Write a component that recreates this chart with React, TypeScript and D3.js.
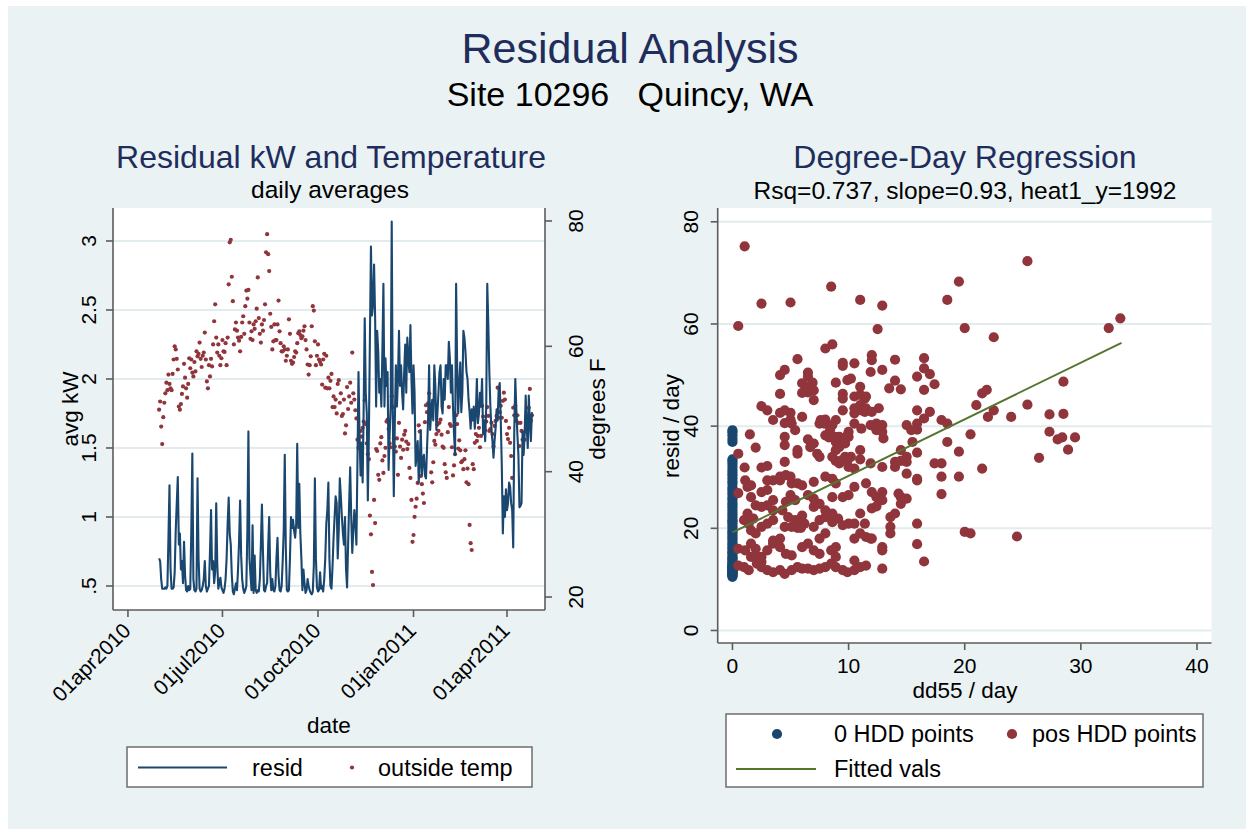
import React from "react";
import * as d3 from "d3";

// ---- data ----
// left panel: daily averages, first day = 01may2010 (30 days after 01apr2010)
const startDay = 30;
const resid = [
  0.70,0.68,0.55,0.48,0.48,0.48,0.49,0.48,0.50,0.85,
  1.23,0.62,0.48,0.48,0.49,0.60,0.90,1.10,1.29,0.80,
  0.88,0.62,0.68,0.52,0.82,0.58,0.47,0.46,0.50,0.47,
  0.48,0.90,1.46,0.55,0.47,0.46,0.48,1.28,0.70,0.48,
  0.46,0.47,0.50,0.55,0.68,0.50,0.46,0.48,0.50,0.75,
  1.05,0.62,0.68,0.52,0.60,1.10,0.66,0.48,0.52,0.56,
  0.49,0.47,0.45,0.48,0.55,0.70,0.95,1.14,0.88,0.80,
  0.58,0.46,0.44,0.48,0.52,0.47,0.62,0.82,1.12,0.72,
  0.55,0.48,0.45,0.47,0.50,0.90,1.62,0.70,0.58,0.47,
  0.94,0.45,0.72,0.47,0.45,0.47,0.46,0.55,0.80,1.09,
  0.75,0.47,0.46,0.50,0.52,0.78,1.00,0.60,0.47,0.55,
  0.47,0.46,0.50,0.70,0.85,0.58,0.47,0.46,0.50,0.68,
  0.90,1.45,0.78,0.47,0.46,0.47,0.70,1.00,0.92,0.98,
  0.90,0.85,0.95,1.53,0.92,1.24,0.88,0.70,0.47,0.62,
  0.52,0.45,0.47,0.55,0.50,0.47,0.45,0.44,0.46,0.65,
  1.28,0.70,0.49,0.46,0.47,0.60,0.48,0.50,0.46,0.55,
  0.70,0.95,1.05,1.25,0.70,0.50,0.48,0.64,0.85,1.00,
  1.15,1.10,0.70,0.90,1.28,1.15,1.00,0.88,0.80,1.00,
  0.62,0.49,0.80,1.10,1.36,1.00,0.74,0.90,1.05,0.95,
  0.80,1.40,2.05,1.60,1.30,1.54,1.25,1.80,2.44,1.90,
  1.75,1.12,1.60,2.30,2.96,2.46,2.54,2.83,2.45,1.80,
  2.35,2.20,1.90,2.00,1.80,2.20,2.69,1.80,2.15,1.95,
  2.05,1.34,1.60,1.80,3.14,1.75,1.15,1.70,2.10,1.80,
  2.00,2.35,1.95,2.10,1.90,1.78,2.05,2.25,1.90,2.30,
  2.15,2.05,2.39,2.00,1.75,2.10,1.90,1.37,1.45,1.55,
  1.25,1.40,1.63,1.30,1.42,1.45,1.30,1.28,1.50,1.70,
  2.10,1.63,1.75,1.85,1.70,2.10,1.95,1.63,1.75,1.90,
  2.05,2.10,1.80,1.75,2.00,1.85,2.10,2.10,2.00,2.27,
  2.15,1.90,2.10,1.80,1.60,1.45,2.69,2.10,1.75,1.95,
  2.12,1.76,1.90,2.35,2.30,2.20,2.05,2.00,1.85,1.76,
  1.64,1.78,1.70,1.80,1.64,1.75,2.00,1.68,1.75,1.90,
  1.80,2.00,1.60,1.70,1.55,1.80,2.69,2.40,2.05,1.80,
  1.64,1.55,1.43,1.55,1.64,1.78,1.70,1.93,1.97,1.70,
  1.37,0.88,1.15,1.00,1.20,1.05,1.10,1.25,1.22,1.10,
  1.05,0.78,1.62,2.00,1.78,1.60,1.45,1.07,1.08,1.10,
  1.62,1.45,1.60,1.88,1.65,1.50,1.88,1.68,1.55,1.76,
];
const temp = [
  49.9,51.2,47.2,44.4,48.7,51.0,52.5,54.2,53.0,55.5,
  54.0,53.3,53.0,55.6,57.9,60.0,59.5,58.0,56.3,50.4,
  49.9,50.8,52.4,53.6,57.2,55.0,53.3,51.8,54.0,58.1,
  56.5,57.9,55.8,55.2,57.5,56.0,59.2,58.4,58.8,60.6,
  58.0,56.7,58.5,59.0,62.2,57.9,54.4,53.3,57.0,55.2,
  58.0,56.8,60.3,64.0,66.7,61.4,59.0,60.3,58.5,57.0,
  58.1,61.0,59.2,59.1,60.5,57.0,61.4,69.9,76.6,77.0,
  71.1,67.2,60.3,62.7,63.8,62.5,61.4,60.9,59.2,61.5,
  63.8,64.8,62.0,66.4,68.9,67.6,69.0,63.8,61.2,62.4,
  61.0,63.5,62.8,64.0,66.0,71.0,64.5,62.0,60.6,63.5,
  62.5,64.2,66.7,75.0,77.9,74.7,72.0,65.2,63.1,59.5,
  60.8,63.5,61.0,61.0,63.5,67.3,62.4,60.5,59.2,59.2,
  60.0,59.5,57.7,58.5,59.5,64.3,62.0,57.7,57.2,57.4,
  58.3,59.2,59.0,60.5,62.1,62.4,61.8,61.3,61.6,62.5,
  63.2,61.0,59.5,57.1,55.5,57.0,58.4,63.2,66.4,65.7,
  60.8,57.0,58.5,60.3,57.9,57.5,57.1,53.9,57.9,58.8,
  53.4,58.5,53.3,55.0,53.3,54.5,55.6,50.3,52.0,50.3,
  51.5,49.3,54.0,54.6,51.0,52.5,48.9,49.2,51.5,46.1,
  47.4,53.5,50.0,52.0,54.2,51.0,59.0,52.5,51.5,49.8,
  48.5,45.1,43.8,45.6,46.5,45.6,47.0,48.0,51.4,47.6,
  44.5,42.8,42.0,33.0,30.0,24.0,21.9,35.5,31.8,43.6,
  43.3,39.5,38.7,44.5,45.5,41.8,39.8,42.5,43.8,48.0,
  48.3,46.8,44.5,43.9,52.0,50.3,45.3,44.0,43.2,45.3,
  39.5,47.8,44.0,42.2,45.1,43.5,45.9,46.5,44.8,43.6,
  44.4,40.6,39.0,35.5,28.8,29.9,32.8,34.4,35.7,38.2,
  47.4,46.4,39.3,38.0,36.5,35.0,47.9,50.6,49.5,50.9,
  52.5,50.6,39.9,38.3,41.5,44.9,44.3,46.0,47.5,46.5,
  47.8,48.3,45.9,44.0,43.8,41.2,39.9,39.0,46.3,50.3,
  47.6,47.3,43.9,39.4,41.0,42.8,49.0,47.6,43.7,45.0,
  43.4,41.5,41.7,40.4,42.0,43.4,38.3,40.5,38.0,31.5,
  28.6,27.5,41.2,40.4,44.6,46.0,44.9,45.7,47.0,43.9,
  45.7,50.5,48.8,47.7,46.6,48.0,50.3,48.9,46.5,46.8,
  47.8,46.0,44.0,47.3,48.1,48.9,53.4,48.6,49.5,50.5,
  48.6,51.3,52.6,51.5,48.1,46.0,45.2,47.0,44.6,42.5,
  39.0,50.2,49.0,50.5,48.1,49.0,47.8,44.1,47.8,46.5,
  45.1,46.2,45.1,46.5,47.5,48.5,50.2,53.2,48.1,49.0,
];
const xTickDays = [0, 91, 183, 275, 365];
const xTickLabels = ["01apr2010", "01jul2010", "01oct2010", "01jan2011", "01apr2011"];
const kwTicks = [0.5, 1, 1.5, 2, 2.5, 3];
const kwTickLabels = [".5", "1", "1.5", "2", "2.5", "3"];
const tempTicks = [20, 40, 60, 80];

// right panel: degree-day regression
const zeroHddResid = [
  10.5,10.7,10.9,11.0,11.2,11.3,11.5,11.6,11.7,11.9,12.0,12.1,12.3,12.4,12.6,12.8,
  13.0,13.3,13.5,13.9,14.2,14.4,14.9,15.3,15.6,16.1,16.4,16.9,17.3,17.8,18.2,18.6,
  19.1,19.4,19.9,20.4,20.9,21.3,21.6,22.1,22.6,23.0,23.5,24.1,24.6,25.0,25.6,26.0,
  26.6,27.1,27.6,28.0,28.7,29.2,29.8,30.4,30.9,31.4,32.0,32.6,33.1,33.5,
  36.9,37.5,38.2,38.8,39.2,
];
const posHddPoints: [number, number][] = [
  [1.05,75.2],[0.5,59.6],[2.5,64.0],[5.0,64.2],[8.5,67.3],[11.0,64.7],[12.9,63.6],[12.5,59.0],
  [18.5,64.7],[19.5,68.3],[20.0,59.2],[22.5,57.4],[25.4,72.3],[32.4,59.2],[33.4,61.1],
  [8.0,55.2],[8.6,56.0],[5.6,53.1],[4.1,50.0],[4.5,51.0],[4.1,46.3],[6.5,50.5],[6.5,49.7],
  [6.9,48.5],[7.0,47.0],[7.0,45.1],[6.0,46.5],[8.9,48.5],[9.5,52.4],[9.5,51.8],[10.5,52.3],
  [9.9,49.0],[10.2,49.3],[11.0,47.7],[10.5,45.8],[11.4,45.4],[11.4,42.8],[12.0,53.9],[12.0,52.9],
  [11.9,50.6],[12.9,51.0],[14.0,53.0],[14.0,48.9],[14.5,47.2],[13.5,47.4],[12.6,43.5],[11.1,43.1],
  [10.5,42.5],[9.5,46.3],[9.5,45.4],[9.5,43.1],[8.9,41.2],[8.6,40.2],[8.0,41.3],[7.5,40.5],
  [6.0,41.8],[5.0,42.6],[4.1,42.6],[3.0,43.1],[2.5,43.9],[6.0,48.4],[5.1,40.5],[4.5,40.6],
  [4.5,36.3],[5.6,35.3],[5.6,34.6],[6.5,37.4],[6.7,35.9],[7.0,36.6],[7.3,34.6],[7.5,34.0],
  [8.0,38.2],[8.3,37.8],[8.9,36.9],[9.5,36.6],[9.9,38.2],[10.0,37.9],[8.9,35.3],[8.6,34.0],
  [8.9,33.2],[9.2,32.7],[9.7,34.0],[10.2,34.0],[10.5,31.7],[11.0,35.3],[11.1,39.5],[11.9,40.2],
  [12.4,39.2],[12.9,40.2],[13.0,37.6],[12.9,32.0],[11.9,32.7],[14.0,33.0],[14.5,33.2],[15.0,34.0],
  [15.0,40.2],[15.9,39.3],[15.9,34.8],[15.5,36.9],[16.5,47.1],[16.5,51.3],[16.5,53.3],[17.0,50.2],
  [17.4,48.2],[15.9,49.7],[15.9,43.1],[16.5,41.5],[17.0,42.8],[18.0,41.2],[18.5,40.5],[18.5,36.9],
  [17.4,32.7],[18.0,32.7],[18.0,30.1],[18.0,26.7],[15.9,29.4],[15.9,20.9],[15.9,16.9],[16.5,13.5],
  [19.5,35.0],[19.5,30.1],[20.0,19.3],[20.5,19.0],[20.5,38.4],[21.0,44.1],[21.5,46.4],[21.9,47.1],
  [22.0,41.8],[22.5,43.1],[21.5,31.7],[24.0,41.8],[24.5,18.4],[25.4,44.2],[26.4,33.8],[27.3,42.3],
  [27.3,38.9],[28.0,37.4],[28.4,37.8],[28.5,48.7],[28.5,42.4],[28.9,35.4],[29.5,37.8],
  [0.5,34.6],[1.05,31.9],[1.5,38.4],[1.1,29.4],[0.5,26.9],[1.3,28.1],[1.6,28.4],[2.0,35.8],
  [2.5,31.9],[3.0,32.2],[3.5,29.4],[4.1,29.4],[3.0,27.5],[2.5,27.1],[1.6,26.1],[2.0,24.5],
  [1.3,22.9],[1.0,21.6],[1.8,21.9],[1.6,19.6],[2.0,19.0],[2.5,20.3],[3.0,20.9],[3.5,21.6],
  [3.5,23.5],[4.1,30.1],[4.6,30.4],[5.0,30.1],[4.5,33.0],[5.1,28.8],[5.6,28.8],[6.0,28.4],
  [5.0,26.5],[5.4,25.5],[4.6,25.2],[4.3,23.5],[4.8,22.2],[5.4,21.6],[6.0,22.5],[6.2,20.9],
  [5.6,20.1],[5.1,20.3],[4.5,20.3],[3.5,17.6],[3.5,17.0],[4.1,18.0],[4.1,16.3],[4.6,15.0],
  [3.0,15.7],[2.5,14.4],[2.0,16.0],[1.6,14.4],[1.1,15.7],[0.5,16.0],[0.5,12.7],[1.0,12.4],
  [1.4,11.8],[2.1,13.1],[2.5,12.4],[3.0,11.8],[3.5,11.4],[4.1,11.8],[4.5,11.1],[5.1,11.8],
  [5.6,12.4],[6.0,12.1],[6.5,12.1],[7.0,11.8],[7.5,12.1],[8.0,12.4],[8.5,13.1],[8.9,12.4],
  [9.5,11.8],[9.9,11.4],[10.5,11.8],[11.0,12.4],[11.5,12.7],[12.9,12.1],[10.5,13.7],[8.9,14.4],
  [8.5,15.7],[8.9,16.3],[7.0,15.7],[7.5,15.0],[6.5,17.0],[6.0,16.3],[5.1,14.7],[7.5,18.0],
  [8.0,19.0],[7.0,20.3],[7.5,21.6],[8.0,22.2],[8.0,23.5],[8.6,22.9],[8.6,21.2],[9.1,21.9],
  [9.5,20.6],[10.0,20.9],[10.5,20.9],[10.5,18.0],[11.0,19.0],[11.5,18.3],[12.0,18.0],[11.4,20.9],
  [11.0,22.9],[12.0,23.9],[12.4,26.1],[12.9,27.1],[12.0,27.1],[11.5,28.8],[10.5,28.1],[10.0,26.5],
  [9.5,26.1],[8.9,28.8],[8.0,30.1],[8.6,29.7],[7.0,29.1],[7.0,25.8],[7.0,24.2],[7.5,24.8],
  [6.5,26.5],[13.6,22.2],[14.0,22.9],[13.6,20.3],[13.6,19.0],[12.9,16.3],[12.9,15.7],[11.9,18.0],
  [14.5,24.8],[14.5,26.1],[15.0,25.8],[15.0,30.7],[15.9,29.7],[12.9,25.5],[12.4,24.3],[8.6,26.1],
  [5.9,20.9],[5.9,20.1],[3.0,24.5],[3.5,25.5],[3.0,29.4],[2.5,24.2],[1.4,20.9],[1.6,17.0],
  [2.1,14.4],[2.5,13.4],
  [3.5,41.2],[4.5,43.1],[4.5,37.9],[5.0,41.3],[5.4,39.2],[6.5,47.7],[6.5,46.6],[7.6,41.2],
  [7.9,40.5],[8.4,39.2],[8.8,37.9],[9.2,35.9],[9.7,36.6],[9.4,33.3],[9.9,33.3],[10.0,32.0],
  [11.0,33.5],[9.2,37.9],[9.7,37.6],[10.0,38.9],[10.5,40.5],[10.5,43.5],[11.0,44.1],[11.0,46.1],
  [11.5,45.8],[11.5,43.5],[12.0,42.8],[12.4,40.5],[12.9,38.9],[14.0,32.0],[14.5,35.3],[15.4,39.2],
  [15.9,40.5],[15.0,33.0],[14.3,26.8],
];
const fitX = [0, 33.5];
const fitY = [19.2, 56.3];
const ddTicks = [0, 10, 20, 30, 40];
const rdTicks = [0, 20, 40, 60, 80];

// ---- style ----
const FONT = "'Liberation Sans', Arial, Helvetica, sans-serif";
const NAVY = "#1a476f";
const MAROON = "#90353b";
const GREEN = "#55752f";
const BG = "#eaf2f3";
const GRID = "#e2ebed";
const AXIS = "#5c5c5c";
const TITLE = "#1f2d5c";

export default function App() {
  const L = { x0: 113, x1: 545, y0: 208, y1: 610 };
  const xL = d3.scaleLinear().domain([-14.4, 401.6]).range([L.x0, L.x1]);
  const yKw = d3.scaleLinear().domain([0.326, 3.239]).range([L.y1, L.y0]);
  const yT = d3.scaleLinear().domain([17.93, 82.07]).range([L.y1, L.y0]);
  const residLine = d3
    .line<number>()
    .x((_, i) => xL(startDay + i))
    .y((d) => yKw(d))(resid) as string;

  const R = { x0: 717.7, x1: 1211.5, y0: 208, y1: 643 };
  const xD = d3.scaleLinear().domain([-1.27, 41.25]).range([R.x0, R.x1]);
  const yD = d3.scaleLinear().domain([-2.45, 82.7]).range([R.y1, R.y0]);
  const fitLine = d3
    .line<number>()
    .x((d) => xD(d))
    .y((_, i) => yD(fitY[i]))(fitX) as string;

  const tickFs = 21;
  const axTitleFs = 22.5;
  const legFs = 23.5;
  const mr = 5.1;

  return (
    <svg
      width={1250}
      height={829}
      style={{ position: "absolute", left: 0, top: 0 }}
      fontFamily={FONT}
    >
      <rect x={0} y={0} width={1250} height={829} fill="#ffffff" />
      <rect x={8} y={6} width={1238} height={823} fill={BG} />

      {/* main titles */}
      <text x={630} y={63} textAnchor="middle" fontSize={43} fill={TITLE}>
        Residual Analysis
      </text>
      <text x={630} y={106} textAnchor="middle" fontSize={34} fill="#000" style={{ whiteSpace: "pre" }}>
        {"Site 10296   Quincy, WA"}
      </text>

      {/* ===== left panel ===== */}
      <text x={331} y={168} textAnchor="middle" fontSize={32} fill={TITLE}>
        Residual kW and Temperature
      </text>
      <text x={330} y={198} textAnchor="middle" fontSize={24.5} fill="#000">
        daily averages
      </text>
      <rect x={L.x0} y={L.y0} width={L.x1 - L.x0} height={L.y1 - L.y0} fill="#fff" />
      {kwTicks.map((t) => (
        <line key={"g" + t} x1={L.x0} x2={L.x1} y1={yKw(t)} y2={yKw(t)} stroke={GRID} strokeWidth={2} />
      ))}
      {temp.map((t, i) => (
        <circle key={"t" + i} cx={xL(startDay + i)} cy={yT(t)} r={2.1} fill={MAROON} />
      ))}
      <path d={residLine} fill="none" stroke={NAVY} strokeWidth={2.1} strokeLinejoin="round" />
      {/* axes */}
      <line x1={L.x0} x2={L.x0} y1={L.y0} y2={L.y1} stroke={AXIS} strokeWidth={1.6} />
      <line x1={L.x1} x2={L.x1} y1={L.y0} y2={L.y1} stroke={AXIS} strokeWidth={1.6} />
      <line x1={L.x0} x2={L.x1} y1={L.y1} y2={L.y1} stroke={AXIS} strokeWidth={1.6} />
      {kwTicks.map((t, i) => (
        <g key={"k" + t}>
          <line x1={L.x0 - 7} x2={L.x0} y1={yKw(t)} y2={yKw(t)} stroke={AXIS} strokeWidth={1.6} />
          <text
            transform={`translate(95.5,${yKw(t)}) rotate(-90)`}
            textAnchor="middle"
            fontSize={tickFs}
            fill="#000"
          >
            {kwTickLabels[i]}
          </text>
        </g>
      ))}
      {tempTicks.map((t) => (
        <g key={"tt" + t}>
          <line x1={L.x1} x2={L.x1 + 7} y1={yT(t)} y2={yT(t)} stroke={AXIS} strokeWidth={1.6} />
          <text
            transform={`translate(583,${yT(t)}) rotate(-90)`}
            textAnchor="middle"
            fontSize={tickFs}
            fill="#000"
          >
            {t}
          </text>
        </g>
      ))}
      {xTickDays.map((d, i) => (
        <g key={"x" + d}>
          <line x1={xL(d)} x2={xL(d)} y1={L.y1} y2={L.y1 + 7} stroke={AXIS} strokeWidth={1.6} />
          <text
            transform={`translate(${xL(d) + 4},632) rotate(-45)`}
            textAnchor="end"
            fontSize={tickFs}
            fill="#000"
          >
            {xTickLabels[i]}
          </text>
        </g>
      ))}
      <text transform="translate(78,409) rotate(-90)" textAnchor="middle" fontSize={axTitleFs} fill="#000">
        avg kW
      </text>
      <text transform="translate(605,409) rotate(-90)" textAnchor="middle" fontSize={axTitleFs} fill="#000">
        degrees F
      </text>
      <text x={329} y={733} textAnchor="middle" fontSize={axTitleFs} fill="#000">
        date
      </text>
      {/* left legend */}
      <rect x={127} y={747} width={405} height={40} fill="#fff" stroke="#6e6e6e" strokeWidth={1.5} />
      <line x1={138} x2={227} y1={767.5} y2={767.5} stroke={NAVY} strokeWidth={2.1} />
      <text x={252} y={776} fontSize={legFs} fill="#000">resid</text>
      <circle cx={352} cy={767.5} r={2.1} fill={MAROON} />
      <text x={378} y={776} fontSize={legFs} fill="#000">outside temp</text>

      {/* ===== right panel ===== */}
      <text x={965} y={168} textAnchor="middle" fontSize={32} fill={TITLE}>
        Degree-Day Regression
      </text>
      <text x={965} y={199} textAnchor="middle" fontSize={24.5} fill="#000">
        Rsq=0.737, slope=0.93, heat1_y=1992
      </text>
      <rect x={R.x0} y={R.y0} width={R.x1 - R.x0} height={R.y1 - R.y0} fill="#fff" />
      {rdTicks.map((t) => (
        <line key={"rg" + t} x1={R.x0} x2={R.x1} y1={yD(t)} y2={yD(t)} stroke={GRID} strokeWidth={2} />
      ))}
      {zeroHddResid.map((r, i) => (
        <circle key={"z" + i} cx={xD(0)} cy={yD(r)} r={mr} fill={NAVY} />
      ))}
      {posHddPoints.map((p, i) => (
        <circle key={"p" + i} cx={xD(p[0])} cy={yD(p[1])} r={mr} fill={MAROON} />
      ))}
      <path d={fitLine} fill="none" stroke={GREEN} strokeWidth={2} />
      <line x1={R.x0} x2={R.x0} y1={R.y0} y2={R.y1} stroke={AXIS} strokeWidth={1.6} />
      <line x1={R.x0} x2={R.x1} y1={R.y1} y2={R.y1} stroke={AXIS} strokeWidth={1.6} />
      {rdTicks.map((t) => (
        <g key={"ry" + t}>
          <line x1={R.x0 - 7} x2={R.x0} y1={yD(t)} y2={yD(t)} stroke={AXIS} strokeWidth={1.6} />
          <text
            transform={`translate(697.5,${yD(t)}) rotate(-90)`}
            textAnchor="middle"
            fontSize={tickFs}
            fill="#000"
          >
            {t}
          </text>
        </g>
      ))}
      {ddTicks.map((t) => (
        <g key={"rx" + t}>
          <line x1={xD(t)} x2={xD(t)} y1={R.y1} y2={R.y1 + 7} stroke={AXIS} strokeWidth={1.6} />
          <text x={xD(t)} y={673} textAnchor="middle" fontSize={tickFs} fill="#000">
            {t}
          </text>
        </g>
      ))}
      <text transform="translate(679,426) rotate(-90)" textAnchor="middle" fontSize={axTitleFs} fill="#000">
        resid / day
      </text>
      <text x={965} y={698} textAnchor="middle" fontSize={axTitleFs} fill="#000">
        dd55 / day
      </text>
      {/* right legend */}
      <rect x={726} y={714} width={477} height={73} fill="#fff" stroke="#6e6e6e" strokeWidth={1.5} />
      <circle cx={777} cy={734} r={mr} fill={NAVY} />
      <text x={834} y={742} fontSize={legFs} fill="#000">0 HDD points</text>
      <circle cx={1012} cy={734} r={mr} fill={MAROON} />
      <text x={1032} y={742} fontSize={legFs} fill="#000">pos HDD points</text>
      <line x1={736} x2={816} y1={769} y2={769} stroke={GREEN} strokeWidth={2} />
      <text x={834} y={777} fontSize={legFs} fill="#000">Fitted vals</text>
    </svg>
  );
}
